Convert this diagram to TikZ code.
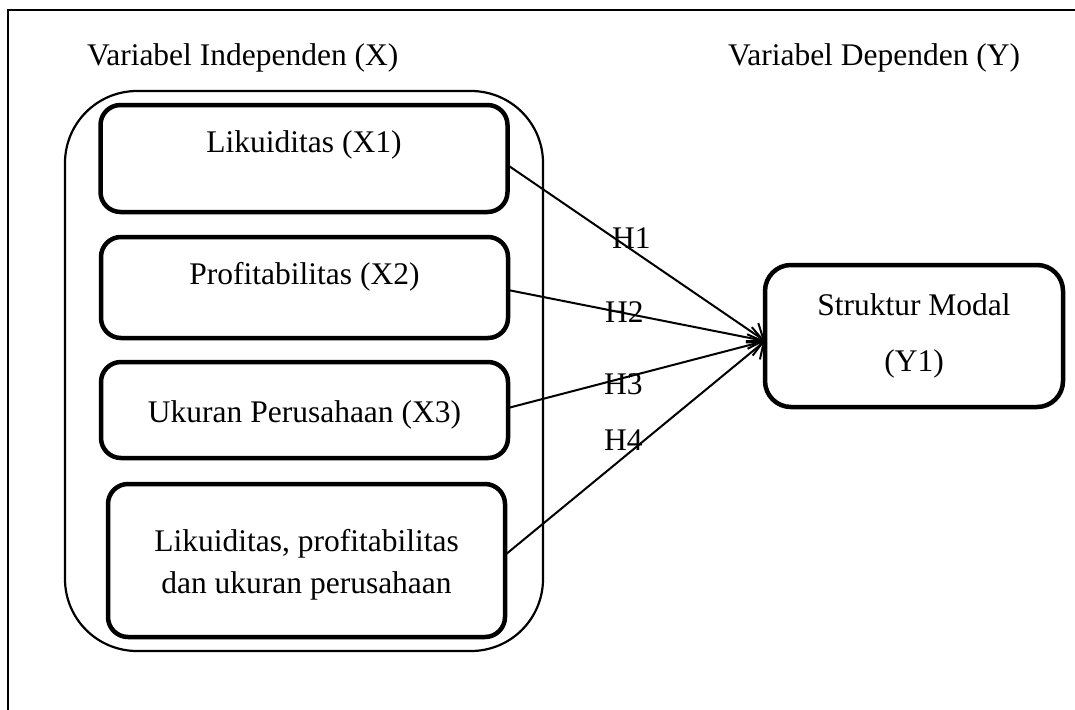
\documentclass[tikz,border=0pt]{standalone}
\usepackage{fontspec}
\setmainfont{Liberation Serif}
\usetikzlibrary{arrows.meta}
\begin{document}
\begin{tikzpicture}[x=1pt,y=-1pt,
  every node/.style={font=\fontsize{31.5}{38}\selectfont, inner sep=0pt, outer sep=0pt},
  varbox/.style={draw, line width=4.5pt, rounded corners=20pt, rectangle},
  txt/.style={anchor=base},
  hyp/.style={anchor=base west},
  conn/.style={line width=2pt, -{Straight Barb[length=14pt,width=22pt,line width=2pt]}}
]
\useasboundingbox (0,0) rectangle (1075,709);
% outer frame
\draw[line width=2pt] (1076,10) -- (8,10) -- (8,710);
% headers
\node[anchor=base west] (hx) at (87,65) {Variabel Independen (X)};
\node[anchor=base west] (hy) at (728,65) {Variabel Dependen (Y)};
% container
\draw[line width=2.2pt, rounded corners=72pt] (65,91) rectangle (543,651);
% boxes
\node[varbox, minimum width=407pt, minimum height=107pt] (x1) at (304,158.5) {};
\node[varbox, minimum width=407pt, minimum height=101pt] (x2) at (304.5,287.5) {};
\node[varbox, minimum width=407pt, minimum height=96pt] (x3) at (304.5,410) {};
\node[varbox, minimum width=397pt, minimum height=153pt] (x4) at (306.5,560.5) {};
\node[varbox, minimum width=298pt, minimum height=142pt, rounded corners=26pt] (y) at (914,336) {};
% texts
\node[txt] (t1) at (304,152) {Likuiditas (X1)};
\node[txt] (t2) at (304.5,284) {Profitabilitas (X2)};
\node[txt] (t3) at (304.5,422) {Ukuran Perusahaan (X3)};
\node[txt] (t4a) at (306.5,551) {Likuiditas, profitabilitas};
\node[txt] (t4b) at (306.5,593) {dan ukuran perusahaan};
\node[txt] (ty1) at (914,315) {Struktur Modal};
\node[txt] (ty2) at (914,371) {(Y1)};
% connectors
\coordinate (tip) at ([yshift=-5pt]y.west);
\draw[conn] ([yshift=-6.5pt]x1.east) -- (tip);
\draw[conn] ([yshift=-2.5pt]x2.east) -- (tip);
\draw[conn] ([yshift=2pt]x3.east) -- (tip);
\draw[conn] ([yshift=5.5pt]x4.east) -- (tip);
% hypothesis labels
\node[hyp] (h1) at (612,248) {H1};
\node[hyp] (h2) at (605,322) {H2};
\node[hyp] (h3) at (604,394) {H3};
\node[hyp] (h4) at (604,450) {H4};
\end{tikzpicture}
\end{document}
